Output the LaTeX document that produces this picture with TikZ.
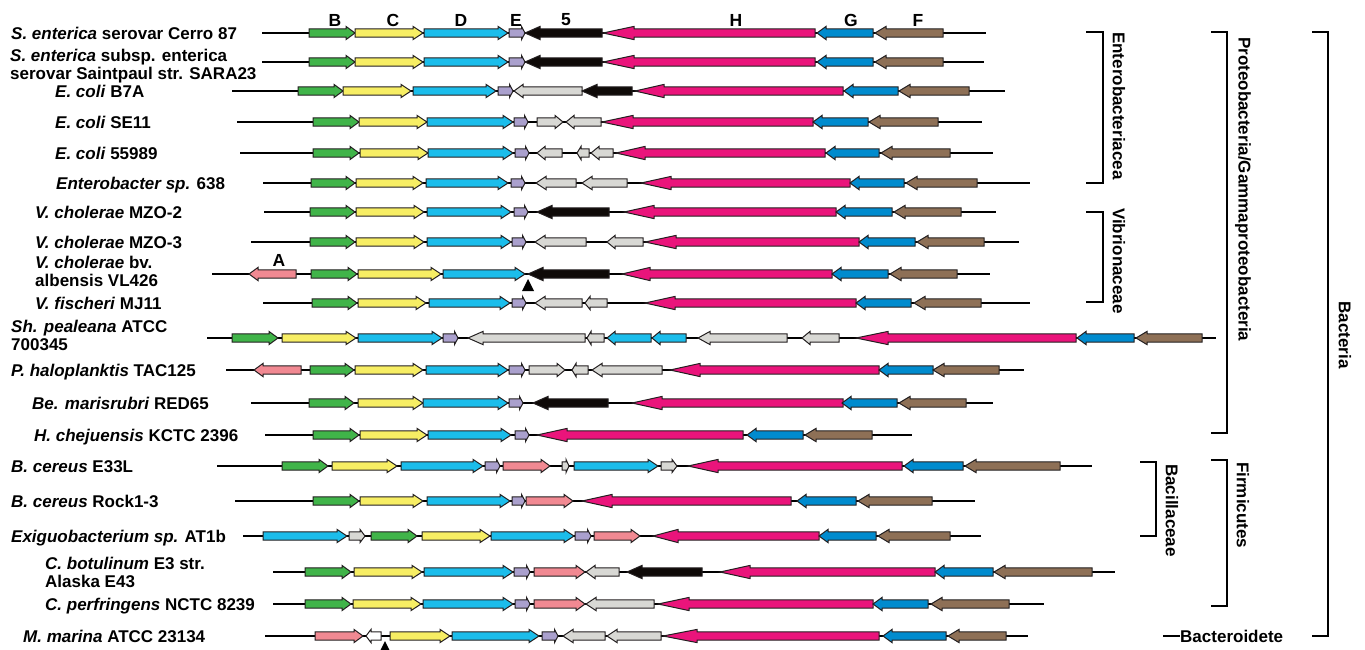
\documentclass[tikz,border=0pt]{standalone}
\usepackage{fontspec}
\setmainfont{Liberation Sans}
\usetikzlibrary{positioning}

\definecolor{geneA}{RGB}{241,137,146}
\definecolor{geneB}{RGB}{64,180,73}
\definecolor{geneC}{RGB}{247,238,100}
\definecolor{geneD}{RGB}{27,189,235}
\definecolor{geneE}{RGB}{170,160,205}
\definecolor{geneF}{RGB}{142,112,86}
\definecolor{geneG}{RGB}{0,139,206}
\definecolor{geneH}{RGB}{234,20,123}
\definecolor{gene5}{RGB}{15,10,8}
\definecolor{geneX}{RGB}{216,216,212}
\definecolor{outline}{RGB}{35,31,32}

% [head length]{tail x}{tip x}{fill}, row y taken from \ry
\newcommand{\genearrow}[4][9]{%
  \pgfmathsetmacro{\gdir}{(#3-#2)/abs(#3-#2)}%
  \pgfmathsetmacro{\ghead}{min(#1,abs(#3-#2))}%
  \pgfmathsetmacro{\gneck}{#3-\gdir*\ghead}%
  \draw[gene, fill=#4] (#2,\ry-4.2) -- (\gneck,\ry-4.2) -- (\gneck,\ry-6.6) -- (#3,\ry)
    -- (\gneck,\ry+6.6) -- (\gneck,\ry+4.2) -- (#2,\ry+4.2) -- cycle;}

\begin{document}
\begin{tikzpicture}[
    x=1pt, y=-1pt,
    gene/.style={draw=outline, line width=1pt},
    backbone/.style={draw=black, line width=1.7pt},
    taxon/.style={anchor=base west, inner sep=0pt, align=left, font=\fontsize{17}{18}\selectfont\bfseries},
    genename/.style={inner sep=0pt, font=\fontsize{17.5}{17.5}\selectfont\bfseries},
    clade/.style={rotate=-90, inner sep=0pt, font=\fontsize{17}{18}\selectfont\bfseries},
    bracket/.style={draw=black, line width=2pt},
    marker/.style={fill=black},
]
\useasboundingbox (0,0) rectangle (1365,649);

% ================== Gene names ==================
\node[genename] (nB) at (335,20) {B};
\node[genename] (nC) at (393,20) {C};
\node[genename] (nD) at (461,20) {D};
\node[genename] (nE) at (516,20) {E};
\node[genename] (n5) at (566,20) {5};
\node[genename] (nH) at (736,20) {H};
\node[genename] (nG) at (851,20) {G};
\node[genename] (nF) at (918,20) {F};
\node[genename] (nA) at (279,260) {A};

% ================== Enterobacteriaceae ==================
\def\ry{33}
\node[taxon] (t1) at (11,\ry+6) {\textit{S. enterica} serovar Cerro 87};
\draw[backbone] (262,\ry) -- (986,\ry);
\genearrow{309}{355}{geneB} \genearrow[10]{355}{423}{geneC} \genearrow[10]{424}{508}{geneD}
\genearrow[3.5]{509}{525}{geneE} \genearrow[15]{602}{525}{gene5} \genearrow[31]{815}{603}{geneH}
\genearrow{873}{817}{geneG} \genearrow[11]{943}{875}{geneF}

\def\ry{62}
\node[taxon] (t2) at (10,\ry+17) {\textit{S. enterica} subsp. enterica\\serovar Saintpaul str. SARA23};
\draw[backbone] (262,\ry) -- (984,\ry);
\genearrow{309}{355}{geneB} \genearrow[10]{355}{423}{geneC} \genearrow[10]{424}{508}{geneD}
\genearrow[3.5]{509}{525}{geneE} \genearrow[15]{602}{525}{gene5} \genearrow[31]{815}{603}{geneH}
\genearrow{873}{817}{geneG} \genearrow[11]{943}{875}{geneF}

\def\ry{91}
\node[taxon] (t3) at (55,\ry+6) {\textit{E. coli} B7A};
\draw[backbone] (232,\ry) -- (1005,\ry);
\genearrow{298}{343}{geneB} \genearrow[10]{343}{411}{geneC} \genearrow[10]{413}{496}{geneD}
\genearrow[3.5]{498}{513}{geneE} \genearrow{582}{514}{geneX} \genearrow[15]{632}{582}{gene5}
\genearrow[29]{843}{635}{geneH} \genearrow{898}{844}{geneG} \genearrow[11]{969}{899}{geneF}

\def\ry{122}
\node[taxon] (t4) at (55,\ry+6) {\textit{E. coli} SE11};
\draw[backbone] (237,\ry) -- (982,\ry);
\genearrow{313}{359}{geneB} \genearrow[10]{359}{427}{geneC} \genearrow[10]{427}{513}{geneD}
\genearrow[3.5]{514}{528}{geneE} \genearrow[8]{537}{563}{geneX} \genearrow[8]{601}{566}{geneX}
\genearrow[31]{813}{602}{geneH} \genearrow{868}{813}{geneG} \genearrow[11]{938}{869}{geneF}

\def\ry{153}
\node[taxon] (t5) at (55,\ry+6) {\textit{E. coli} 55989};
\draw[backbone] (240,\ry) -- (993,\ry);
\genearrow{313}{359}{geneB} \genearrow[10]{360}{428}{geneC} \genearrow[10]{428}{513}{geneD}
\genearrow[3.5]{515}{529}{geneE} \genearrow[8]{562}{537}{geneX} \genearrow[4]{589}{577}{geneX}
\genearrow[8]{613}{591}{geneX} \genearrow[29]{825}{616}{geneH} \genearrow{879}{826}{geneG}
\genearrow[11]{950}{881}{geneF}

\def\ry{183}
\node[taxon] (t6) at (56,\ry+6) {\textit{Enterobacter sp.} 638};
\draw[backbone] (263,\ry) -- (1030,\ry);
\genearrow{311}{355}{geneB} \genearrow[10]{356}{423}{geneC} \genearrow[10]{426}{508}{geneD}
\genearrow[3.5]{511}{525}{geneE} \genearrow[10]{576}{536}{geneX} \genearrow[10]{627}{582}{geneX}
\genearrow[30]{850}{641}{geneH} \genearrow{904}{850}{geneG} \genearrow[11]{977}{906}{geneF}

% ================== Vibrionaceae ==================
\def\ry{212}
\node[taxon] (t7) at (35,\ry+6) {\textit{V. cholerae} MZO-2};
\draw[backbone] (264,\ry) -- (996,\ry);
\genearrow{310}{355}{geneB} \genearrow[10]{356}{424}{geneC} \genearrow[10]{427}{511}{geneD}
\genearrow[3.5]{514}{528}{geneE} \genearrow[15]{609}{537}{gene5} \genearrow[30]{836}{624}{geneH}
\genearrow{892}{836}{geneG} \genearrow[11]{961}{894}{geneF}

\def\ry{242}
\node[taxon] (t8) at (35,\ry+6) {\textit{V. cholerae} MZO-3};
\draw[backbone] (251,\ry) -- (1019,\ry);
\genearrow{310}{355}{geneB} \genearrow[10]{356}{424}{geneC} \genearrow[10]{427}{511}{geneD}
\genearrow[3.5]{512}{526}{geneE} \genearrow[10]{586}{535}{geneX} \genearrow[8]{643}{607}{geneX}
\genearrow[31]{859}{645}{geneH} \genearrow{915}{859}{geneG} \genearrow[11]{984}{917}{geneF}

\def\ry{274}
\node[taxon] (t9) at (35,\ry+12) {\textit{V. cholerae} bv.\\albensis VL426};
\draw[backbone] (212,\ry) -- (990,\ry);
\genearrow{296}{249}{geneA} \genearrow{311}{357}{geneB} \genearrow[10]{358}{441}{geneC}
\genearrow[10]{443}{525}{geneD} \genearrow[15]{609}{528}{gene5} \genearrow[28]{832}{622}{geneH}
\genearrow{888}{832}{geneG} \genearrow[11]{957}{890}{geneF}
\fill[marker] (528,279) -- (534,291) -- (522,291) -- cycle;

\def\ry{303}
\node[taxon] (t10) at (35,\ry+6) {\textit{V. fischeri} MJ11};
\draw[backbone] (263,\ry) -- (1030,\ry);
\genearrow{312}{357}{geneB} \genearrow[10]{358}{426}{geneC} \genearrow[10]{429}{510}{geneD}
\genearrow[3.5]{512}{526}{geneE} \genearrow[10]{582}{535}{geneX} \genearrow[5]{607}{585}{geneX}
\genearrow[30]{856}{645}{geneH} \genearrow{911}{856}{geneG} \genearrow[11]{981}{914}{geneF}

% ================== Other Gammaproteobacteria ==================
\def\ry{338}
\node[taxon] (t11) at (11,\ry+12) {\textit{Sh. pealeana} ATCC\\700345};
\draw[backbone] (207,\ry) -- (1216,\ry);
\genearrow{232}{278}{geneB} \genearrow[10]{282}{356}{geneC} \genearrow[10]{358}{442}{geneD}
\genearrow[3.5]{443}{458}{geneE} \genearrow[15]{585}{468}{geneX} \genearrow[4]{604}{587}{geneX}
\genearrow[8]{651}{607}{geneD} \genearrow[8]{686}{652}{geneD} \genearrow[12]{787}{698}{geneX}
\genearrow[8]{839}{802}{geneX} \genearrow[32]{1076}{856}{geneH} \genearrow{1134}{1077}{geneG}
\genearrow[11]{1202}{1136}{geneF}

\def\ry{370}
\node[taxon] (t12) at (11,\ry+6) {\textit{P. haloplanktis} TAC125};
\draw[backbone] (226,\ry) -- (1024,\ry);
\genearrow{301}{254}{geneA} \genearrow{310}{354}{geneB} \genearrow[10]{355}{423}{geneC}
\genearrow[10]{426}{508}{geneD} \genearrow[3.5]{509}{525}{geneE} \genearrow[8]{529}{565}{geneX}
\genearrow[4]{588}{572}{geneX} \genearrow[10]{662}{592}{geneX} \genearrow[30]{879}{670}{geneH}
\genearrow{933}{879}{geneG} \genearrow[11]{999}{933}{geneF}

\def\ry{403}
\node[taxon] (t13) at (32,\ry+6) {\textit{Be. marisrubri} RED65};
\draw[backbone] (251,\ry) -- (993,\ry);
\genearrow{309}{354}{geneB} \genearrow[10]{358}{423}{geneC} \genearrow[10]{423}{508}{geneD}
\genearrow[3.5]{509}{523}{geneE} \genearrow[15]{608}{533}{gene5} \genearrow[30]{843}{632}{geneH}
\genearrow{897}{842}{geneG} \genearrow[11]{966}{899}{geneF}

\def\ry{435}
\node[taxon] (t14) at (34,\ry+6) {\textit{H. chejuensis} KCTC 2396};
\draw[backbone] (265,\ry) -- (912,\ry);
\genearrow{313}{359}{geneB} \genearrow[10]{360}{427}{geneC} \genearrow[10]{428}{511}{geneD}
\genearrow[3.5]{515}{529}{geneE} \genearrow[30]{743}{537}{geneH} \genearrow{803}{747}{geneG}
\genearrow[11]{872}{805}{geneF}

% ================== Firmicutes ==================
\def\ry{466}
\node[taxon] (t15) at (11,\ry+6) {\textit{B. cereus} E33L};
\draw[backbone] (217,\ry) -- (1092,\ry);
\genearrow{282}{328}{geneB} \genearrow[10]{332}{397}{geneC} \genearrow[10]{401}{483}{geneD}
\genearrow[3.5]{485}{500}{geneE} \genearrow{503}{550}{geneA} \genearrow[3]{562}{569}{geneX}
\genearrow[10]{574}{658}{geneD} \genearrow[5]{661}{677}{geneX} \genearrow[30]{902}{688}{geneH}
\genearrow{963}{904}{geneG} \genearrow[11]{1060}{965}{geneF}

\def\ry{501}
\node[taxon] (t16) at (11,\ry+6) {\textit{B. cereus} Rock1-3};
\draw[backbone] (235,\ry) -- (975,\ry);
\genearrow{313}{359}{geneB} \genearrow[10]{360}{423}{geneC} \genearrow[10]{427}{510}{geneD}
\genearrow[3.5]{512}{525}{geneE} \genearrow{526}{573}{geneA} \genearrow[30]{791}{582}{geneH}
\genearrow{856}{797}{geneG} \genearrow[11]{932}{858}{geneF}

\def\ry{536}
\node[taxon] (t17) at (11,\ry+6) {\textit{Exiguobacterium sp.} AT1b};
\draw[backbone] (243,\ry) -- (981,\ry);
\genearrow[10]{263}{347}{geneD} \genearrow[5]{349}{365}{geneX} \genearrow{371}{417}{geneB}
\genearrow[10]{422}{490}{geneC} \genearrow[10]{491}{574}{geneD} \genearrow[3.5]{575}{591}{geneE}
\genearrow{594}{640}{geneA} \genearrow[25]{819}{653}{geneH} \genearrow{876}{819}{geneG}
\genearrow[11]{950}{878}{geneF}

\def\ry{572}
\node[taxon] (t18) at (45,\ry+15) {\textit{C. botulinum} E3 str.\\Alaska E43};
\draw[backbone] (273,\ry) -- (1115,\ry);
\genearrow{305}{351}{geneB} \genearrow[10]{354}{422}{geneC} \genearrow[10]{424}{513}{geneD}
\genearrow[3.5]{514}{530}{geneE} \genearrow{534}{585}{geneA} \genearrow{619}{586}{geneX}
\genearrow[15]{702}{627}{gene5} \genearrow[30]{935}{720}{geneH} \genearrow{993}{935}{geneG}
\genearrow[11]{1092}{994}{geneF}

\def\ry{604}
\node[taxon] (t19) at (45,\ry+6) {\textit{C. perfringens} NCTC 8239};
\draw[backbone] (273,\ry) -- (1044,\ry);
\genearrow{305}{351}{geneB} \genearrow[10]{353}{421}{geneC} \genearrow[10]{423}{513}{geneD}
\genearrow[3.5]{515}{530}{geneE} \genearrow{534}{585}{geneA} \genearrow[10]{654}{586}{geneX}
\genearrow[31]{873}{658}{geneH} \genearrow{928}{873}{geneG} \genearrow[11]{1009}{931}{geneF}

% ================== Bacteroidetes ==================
\def\ry{636}
\node[taxon] (t20) at (23,\ry+6) {\textit{M. marina} ATCC 23134};
\draw[backbone] (265,\ry) -- (1028,\ry);
\genearrow{315}{363}{geneA} \genearrow[5]{381}{366}{white} \genearrow[10]{390}{450}{geneC}
\genearrow[10]{452}{539}{geneD} \genearrow[3.5]{542}{558}{geneE} \genearrow[10]{605}{563}{geneX}
\genearrow[10]{661}{607}{geneX} \genearrow[34]{879}{663}{geneH} \genearrow{946}{883}{geneG}
\genearrow[11]{1006}{948}{geneF}
\fill[marker] (385,641) -- (391,653) -- (379,653) -- cycle;

% ================== Taxonomy brackets ==================
\draw[bracket] (1086,32) -- (1103,32) -- (1103,183) -- (1086,183);
\node[clade, anchor=west] (cEntero) at (1119,32) {Enterobacteriacea};
\draw[bracket] (1086,212) -- (1103,212) -- (1103,302) -- (1086,302);
\node[clade, anchor=west] (cVibrio) at (1119,208) {Vibrionaceae};
\draw[bracket] (1211,32) -- (1227,32) -- (1227,433) -- (1211,433);
\node[clade, anchor=west] (cProteo) at (1243,37) {Proteobacteria/Gammaproteobacteria};
\draw[bracket] (1140,462) -- (1156,462) -- (1156,536) -- (1140,536);
\node[clade, anchor=west] (cBacil) at (1172,464) {Bacillaceae};
\draw[bracket] (1211,460) -- (1227,460) -- (1227,606) -- (1211,606);
\node[clade, anchor=west] (cFirmi) at (1243,462) {Firmicutes};
\draw[bracket] (1312,32) -- (1328,32) -- (1328,636) -- (1312,636);
\node[clade] (cBact) at (1345,335) {Bacteria};
\node[taxon, anchor=west] (cBacter) at (1180,636) {Bacteroidete};
\draw[bracket] (1163,636) -- (cBacter.west);

\end{tikzpicture}
\end{document}
